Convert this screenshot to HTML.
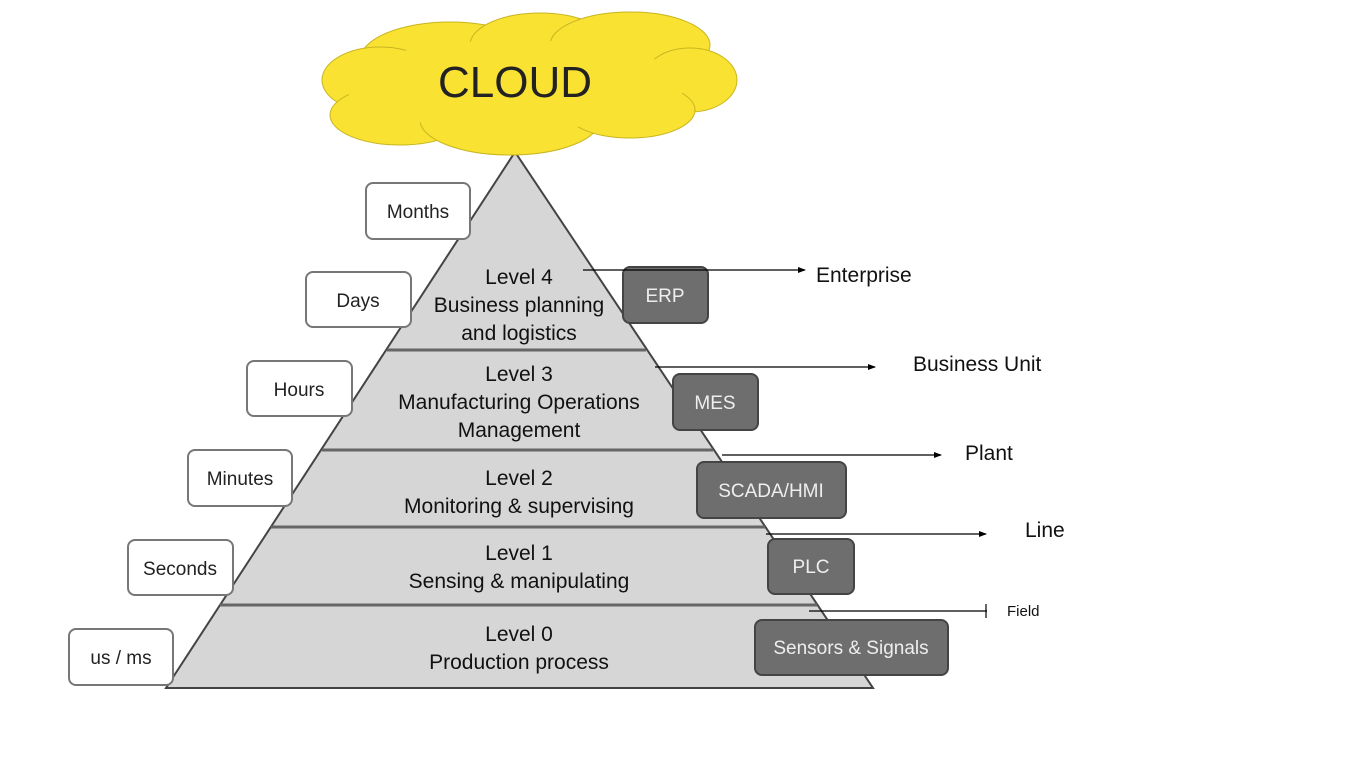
<!DOCTYPE html>
<html><head><meta charset="utf-8"><style>
html,body{margin:0;padding:0;background:#fff;width:1366px;height:768px;overflow:hidden}
svg text{font-family:"Liberation Sans",sans-serif}
</style></head><body>
<svg width="1366" height="768" viewBox="0 0 1366 768" xmlns="http://www.w3.org/2000/svg">
<defs>
<marker id="a" markerWidth="8" markerHeight="8" refX="7" refY="4" orient="auto" markerUnits="userSpaceOnUse"><path d="M0,1 L8,4 L0,7 Z" fill="#000"/></marker>
</defs>
<!-- pyramid -->
<polygon points="515,152 166,688 873,688" fill="#d6d6d6" stroke="#444" stroke-width="2"/>
<g stroke="#666" stroke-width="3">
<line x1="387" y1="350" x2="646" y2="350"/>
<line x1="322" y1="450" x2="713" y2="450"/>
<line x1="271" y1="527" x2="765" y2="527"/>
<line x1="220" y1="605" x2="817" y2="605"/>
</g>
<!-- cloud -->
<g fill="#f9e231" stroke="#c8b520" stroke-width="1">
<ellipse cx="450" cy="60" rx="90" ry="38"/>
<ellipse cx="540" cy="45" rx="70" ry="32"/>
<ellipse cx="630" cy="45" rx="80" ry="33"/>
<ellipse cx="690" cy="80" rx="47" ry="32"/>
<ellipse cx="380" cy="80" rx="58" ry="33"/>
<ellipse cx="400" cy="115" rx="70" ry="30"/>
<ellipse cx="510" cy="120" rx="90" ry="35"/>
<ellipse cx="630" cy="110" rx="65" ry="28"/>
</g>
<g fill="#f9e231">
<ellipse cx="515" cy="85" rx="170" ry="45"/>
</g>
<text x="515" y="97" font-size="44" text-anchor="middle" fill="#222">CLOUD</text>
<!-- level text -->
<g font-size="21" text-anchor="middle" fill="#111">
<text x="519" y="284">Level 4</text>
<text x="519" y="312">Business planning</text>
<text x="519" y="340">and logistics</text>
<text x="519" y="381">Level 3</text>
<text x="519" y="409">Manufacturing Operations</text>
<text x="519" y="437">Management</text>
<text x="519" y="485">Level 2</text>
<text x="519" y="513">Monitoring &amp; supervising</text>
<text x="519" y="560">Level 1</text>
<text x="519" y="588">Sensing &amp; manipulating</text>
<text x="519" y="641">Level 0</text>
<text x="519" y="669">Production process</text>
</g>
<!-- time boxes -->
<g fill="#fff" stroke="#777" stroke-width="2">
<rect x="366" y="183" width="104" height="56" rx="7"/>
<rect x="306" y="272" width="105" height="55" rx="7"/>
<rect x="247" y="361" width="105" height="55" rx="7"/>
<rect x="188" y="450" width="104" height="56" rx="7"/>
<rect x="128" y="540" width="105" height="55" rx="7"/>
<rect x="69" y="629" width="104" height="56" rx="7"/>
</g>
<g font-size="19" text-anchor="middle" fill="#222">
<text x="418" y="218">Months</text>
<text x="358" y="307">Days</text>
<text x="299" y="396">Hours</text>
<text x="240" y="485">Minutes</text>
<text x="180" y="575">Seconds</text>
<text x="121" y="664">us / ms</text>
</g>
<!-- dark boxes -->
<g fill="#6e6e6e" stroke="#444" stroke-width="2">
<rect x="623" y="267" width="85" height="56" rx="7"/>
<rect x="673" y="374" width="85" height="56" rx="7"/>
<rect x="697" y="462" width="149" height="56" rx="7"/>
<rect x="768" y="539" width="86" height="55" rx="7"/>
<rect x="755" y="620" width="193" height="55" rx="7"/>
</g>
<g font-size="19" text-anchor="middle" fill="#eee">
<text x="665" y="302">ERP</text>
<text x="715" y="409">MES</text>
<text x="771" y="497">SCADA/HMI</text>
<text x="811" y="573">PLC</text>
<text x="851" y="654">Sensors &amp; Signals</text>
</g>
<!-- arrows -->
<g stroke="#000" stroke-width="1.2">
<line x1="583" y1="270" x2="805" y2="270" marker-end="url(#a)"/>
<line x1="655" y1="367" x2="875" y2="367" marker-end="url(#a)"/>
<line x1="722" y1="455" x2="941" y2="455" marker-end="url(#a)"/>
<line x1="766" y1="534" x2="986" y2="534" marker-end="url(#a)"/>
<line x1="809" y1="611" x2="987" y2="611"/>
<line x1="986" y1="604" x2="986" y2="618"/>
</g>
<g font-size="21" fill="#111">
<text x="816" y="282">Enterprise</text>
<text x="913" y="371">Business Unit</text>
<text x="965" y="460">Plant</text>
<text x="1025" y="537">Line</text>
<text x="1007" y="616" font-size="15">Field</text>
</g>
</svg>
</body></html>
